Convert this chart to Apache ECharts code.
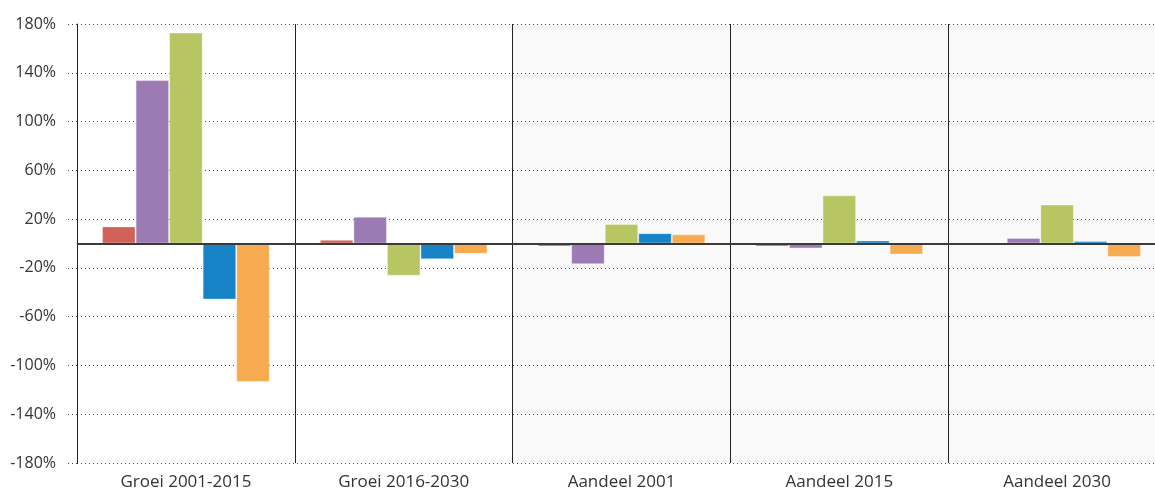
<!DOCTYPE html>
<html>
<head>
<meta charset="utf-8">
<script src="https://cdn.jsdelivr.net/npm/echarts@6/dist/echarts.min.js"></script>
<style>
    html, body { margin: 0; padding: 0; background: #fff; }
    #main { width: 1155px; height: 495px; }
</style>
</head>
<body>
<div id="main"></div>
<script>
    // categorieen en waarden
    var categories = ['Groei 2001-2015', 'Groei 2016-2030', 'Aandeel 2001', 'Aandeel 2015', 'Aandeel 2030'];
    var rood = [14, 3, -2.5, -2.5, 0];
    var paars = [134, 22, -17, -4, 4.5];
    var groen = [173, -26.5, 16, 39.5, 32];
    var blauw = [-46, -13, 8.5, 2.5, 2];
    var oranje = [-113.5, -8.5, 7.5, -9, -11];

    var kleuren = ['#d0625a', '#9c7bb4', '#b7c662', '#1784c7', '#f7ab51'];
    var reeksen = [rood, paars, groen, blauw, oranje];

    var myChart = echarts.init(document.getElementById('main'));

    function maakReeks(data, i) {
        return {
            name: 'reeks' + (i + 1),
            type: 'bar',
            data: data,
            barGap: 0,
            barCategoryGap: '23%',
            itemStyle: {
                color: kleuren[i],
                borderColor: 'rgba(255,255,255,0.35)',
                borderWidth: 1
            },
            markLine: i === 0 ? {
                silent: true,
                symbol: 'none',
                label: { show: false },
                lineStyle: { color: '#3a3a3a', width: 2, type: 'solid' },
                data: [{ yAxis: 0 }]
            } : undefined
        };
    }

    var option = {
        animation: false,
        // laatste categorie loopt buiten beeld door
        grid: { left: 77, width: 1089, top: 24, bottom: 32, outerBoundsMode: 'none' },
        xAxis: {
            type: 'category',
            data: categories,
            z: 0,
            axisLine: { lineStyle: { color: '#222', width: 1 } },
            axisTick: { show: false },
            axisLabel: {
                color: '#333',
                fontFamily: 'Open Sans',
                fontSize: 17,
                margin: 11
            },
            splitLine: { show: true, lineStyle: { color: '#222', width: 1 } },
            splitArea: {
                show: true,
                areaStyle: { color: ['#ffffff', '#ffffff', '#f9f9f9', '#f9f9f9', '#f9f9f9'] }
            }
        },
        yAxis: {
            type: 'value',
            min: -180,
            max: 180,
            interval: 40,
            z: 1,
            axisLine: { show: true, lineStyle: { color: '#222', width: 1 } },
            axisTick: {
                show: true,
                length: 10,
                lineStyle: { color: '#444', type: [1, 3] }
            },
            axisLabel: {
                color: '#333',
                fontFamily: 'Open Sans',
                fontSize: 16,
                margin: 21,
                verticalAlign: 'middle',
                padding: [0, 0, 12, 0],
                formatter: '{value}%'
            },
            splitLine: { show: true, lineStyle: { color: '#444', type: [1, 3] } }
        },
        series: reeksen.map(maakReeks)
    };

    myChart.setOption(option);
</script>
</body>
</html>
